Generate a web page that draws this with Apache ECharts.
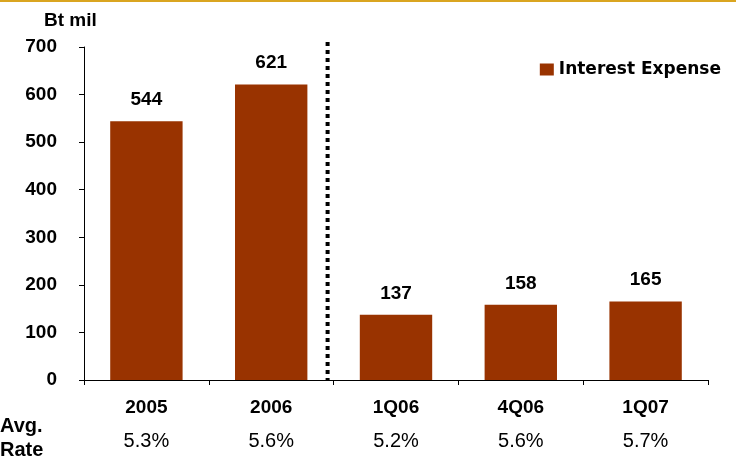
<!DOCTYPE html>
<html><head><meta charset="utf-8">
<script src="https://cdn.jsdelivr.net/npm/echarts@6/dist/echarts.min.js"></script>
<style>html,body{margin:0;padding:0;background:#fff}#c{width:736px;height:462px}</style>
</head><body><div id="c"></div>
<script>
var categories = ['2005', '2006', '1Q06', '4Q06', '1Q07'];
var interestExpense = [544, 621, 137, 158, 165];
var avgRates = ['5.3%', '5.6%', '5.2%', '5.6%', '5.7%'];
var yTicks = [0, 100, 200, 300, 400, 500, 600, 700];
var seriesName = 'Interest Expense';
var unitLabel = 'Bt mil';

var FONT = '"Liberation Sans", Arial, sans-serif';
var chart = echarts.init(document.getElementById('c'), null, {renderer: 'canvas'});
var option = {
  animation: false,
  backgroundColor: '#fff',
  grid: {left: 84, right: 28, top: 47, bottom: 82, containLabel: false},
  legend: {
    data: [{name: seriesName, icon: 'rect'}], right: 10, top: 56, itemWidth: 14, itemHeight: 12, itemGap: 6,
    textStyle: {fontFamily: '"DejaVu Sans", sans-serif', fontWeight: 'bold', fontSize: 17, color: '#000'}
  },
  xAxis: {
    type: 'category', data: categories,
    axisLine: {lineStyle: {color: '#000', width: 1}},
    axisTick: {show: true, length: 5, lineStyle: {color: '#000'}},
    axisLabel: {
      interval: 0, margin: 13,
      formatter: function (v, i) { return '{a|' + v + '}\n{b|' + avgRates[i] + '}'; },
      rich: {
        a: {fontFamily: FONT, fontWeight: 'bold', fontSize: 19, color: '#000', lineHeight: 30},
        b: {fontFamily: FONT, fontSize: 20, color: '#000', lineHeight: 36}
      }
    }
  },
  yAxis: {
    type: 'value', min: yTicks[0], max: yTicks[yTicks.length - 1], interval: 100,
    splitLine: {show: false},
    axisLine: {show: true, lineStyle: {color: '#000', width: 1}},
    axisTick: {show: true, length: 5, lineStyle: {color: '#000'}},
    axisLabel: {margin: 27, fontFamily: FONT, fontWeight: 'bold', fontSize: 19, color: '#000'}
  },
  series: [{
    name: seriesName, type: 'bar', data: interestExpense, barWidth: '58%',
    itemStyle: {color: '#993300'},
    label: {show: true, position: 'top', distance: 12, fontFamily: FONT, fontWeight: 'bold', fontSize: 19, color: '#000'}
  }]
};
chart.setOption(option);

function addGraphics() {
  var p1 = chart.convertToPixel({xAxisIndex: 0}, categories[1]);
  var p2 = chart.convertToPixel({xAxisIndex: 0}, categories[2]);
  var yTop = chart.convertToPixel({yAxisIndex: 0}, yTicks[yTicks.length - 1]);
  var yBot = chart.convertToPixel({yAxisIndex: 0}, yTicks[0]);
  var xd = (p1 + p2) / 2 - 6;
  chart.setOption({
    graphic: [
      {type: 'rect', left: 0, top: 0, shape: {width: 736, height: 2}, style: {fill: '#DAA520'}, silent: true},
      {type: 'line', shape: {x1: xd, y1: yTop - 5, x2: xd, y2: yBot}, style: {stroke: '#000', lineWidth: 4, lineDash: [4, 4]}, silent: true},
      {type: 'text', left: 44, top: 11, style: {text: unitLabel, font: 'bold 19px ' + FONT, fill: '#000'}},
      {type: 'text', left: 0, top: 416, style: {text: 'Avg.', font: 'bold 20px ' + FONT, fill: '#000'}},
      {type: 'text', left: 0, top: 440, style: {text: 'Rate', font: 'bold 20px ' + FONT, fill: '#000'}}
    ]
  });
}
addGraphics();
</script></body></html>
